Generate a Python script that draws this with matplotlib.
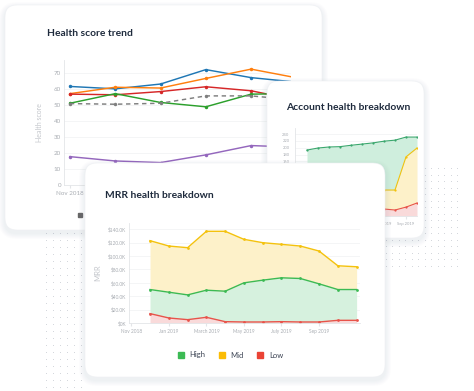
import numpy as np
import matplotlib
matplotlib.use("Agg")
import matplotlib.pyplot as plt
from matplotlib.patches import FancyBboxPatch
from matplotlib.lines import Line2D

W, H = 474, 391
plt.rcParams['font.family'] = ['Lato', 'DejaVu Sans']

# ---- Health score trend (back card) ----
health_months = ['Nov 2018', 'Dec 2018', 'Jan 2019', 'Feb 2019', 'Mar 2019', 'Apr 2019']
health_blue = [61.5, 60, 63, 72, 67, 64.2]
health_orange = [57, 61, 60.5, 66.5, 72.3, 66.9]
health_red = [56.7, 56.3, 58.3, 61.3, 58.8, 53]
health_green = [51, 57, 51.5, 48.8, 56.7, 57]
health_avg = [50.8, 50.4, 51, 55.6, 55.6, 53]
health_purple = [17.7, 15, 14, 18.8, 24.6, 23.6]
health_yticks = [0, 10, 20, 30, 40, 50, 60, 70]

# ---- Account health breakdown (middle card), accounts per segment ----
acct_months = ['Dec 2018', 'Jan 2019', 'Feb 2019', 'Mar 2019', 'Apr 2019', 'May 2019',
               'Jun 2019', 'Jul 2019', 'Aug 2019', 'Sep 2019', 'Oct 2019']
acct_low = [25, 24, 24, 23, 22, 22, 21, 20.5, 17.5, 26, 38]
acct_mid = [55, 56, 55, 56, 57, 56, 56, 55.5, 58.5, 147, 161]
acct_high = [113, 119, 123, 124, 128, 132.5, 137, 143, 146, 58, 32]
acct_yticks = [0, 20, 40, 60, 80, 100, 120, 140, 160, 180, 200, 220, 240]

# ---- MRR health breakdown (front card), $K ----
mrr_months = ['Dec 2018', 'Jan 2019', 'Feb 2019', 'Mar 2019', 'Apr 2019', 'May 2019',
              'Jun 2019', 'Jul 2019', 'Aug 2019', 'Sep 2019', 'Oct 2019', 'Nov 2019']
mrr_low = [14, 7.5, 5, 8.5, 2, 1.5, 1.5, 2, 1.5, 1.5, 4, 4]
mrr_high = [36, 38.5, 37, 40.5, 45.5, 58.5, 62.5, 65.5, 65, 57, 46, 46]
mrr_mid = [73, 69, 70.5, 88, 89.5, 65, 56, 50, 48.5, 49, 35.5, 34]
mrr_xtick_pos = [-1, 1, 3, 5, 7, 9]
mrr_xtick_labels = ['Nov 2018', 'Jan 2019', 'March 2019', 'May 2019', 'July 2019', 'Sep 2019']
mrr_yticks = [0, 20, 40, 60, 80, 100, 120, 140]

GREEN, YELLOW, RED = '#3cba54', '#f4c20d', '#e8534a'
GREEN_F, YELLOW_F, RED_F = '#d6f1de', '#fdf1c9', '#f9dada'
TITLE_C = '#1f2b3d'
TICK_C = '#a9adb3'


def rect(x0, y0, x1, y1):
    return [x0 / W, 1 - y1 / H, (x1 - x0) / W, (y1 - y0) / H]


def card(fig, x0, y0, x1, y1, z, title, tx, ty):
    pad = 14
    cax = fig.add_axes(rect(x0 - pad, y0 - pad, x1 + pad, y1 + pad))
    cax.set_xlim(x0 - pad, x1 + pad)
    cax.set_ylim(y1 + pad, y0 - pad)
    cax.axis('off')
    cax.set_zorder(z)
    for k in range(6, 0, -1):
        sh = FancyBboxPatch((x0 - k, y0 - k + 3), x1 - x0 + 2 * k, y1 - y0 + 2 * k,
                            boxstyle="round,pad=0,rounding_size=%d" % (12 + k),
                            fc='#8a93a6', ec='none', alpha=0.018)
        cax.add_patch(sh)
    cax.add_patch(FancyBboxPatch((x0, y0), x1 - x0, y1 - y0,
                                 boxstyle="round,pad=0,rounding_size=12",
                                 fc='white', ec='#eef0f3', lw=0.4))
    cax.text(tx, ty, title, fontsize=7.4, fontweight='bold', color=TITLE_C,
             ha='left', va='center')
    return cax


def style_axes(ax, z, tick_size):
    ax.set_zorder(z)
    ax.set_facecolor('none')
    for s in ['top', 'right']:
        ax.spines[s].set_visible(False)
    for s in ['left', 'bottom']:
        ax.spines[s].set_color('#e3e5e8')
        ax.spines[s].set_linewidth(0.6)
    ax.tick_params(colors=TICK_C, labelsize=tick_size, length=0, pad=2)
    ax.tick_params(axis='x', length=2, color='#e3e5e8')
    ax.grid(axis='y', color='#f0f1f3', lw=0.5)
    ax.set_axisbelow(True)


fig = plt.figure(figsize=(W / 100, H / 100), dpi=100)
fig.patch.set_facecolor('white')

# background dot grids
bg = fig.add_axes([0, 0, 1, 1])
bg.set_xlim(0, W)
bg.set_ylim(H, 0)
bg.axis('off')
bg.set_zorder(0)
gx, gy = np.meshgrid(np.arange(46, 86, 7), np.arange(233, 391, 7))
bg.scatter(gx.ravel(), gy.ravel(), s=0.5, color='#d2d5da', lw=0)
gx, gy = np.meshgrid(np.arange(386, 464, 6.5), np.arange(168, 267, 6.5))
bg.scatter(gx.ravel(), gy.ravel(), s=0.5, color='#d2d5da', lw=0)

# ---------------- card 1 ----------------
c1 = card(fig, 5, 5, 322, 230, 1, 'Health score trend', 47, 34)
c1.text(40, 122, 'Health score', rotation=90, fontsize=5, color='#c3c6cb',
        ha='center', va='center')
ax1 = fig.add_axes(rect(64, 60, 291, 185))
style_axes(ax1, 2, 4.5)
x1 = np.arange(len(health_months))
series1 = [(health_blue, '#1f77b4', '-'), (health_orange, '#ff7f0e', '-'),
           (health_red, '#d62728', '-'), (health_green, '#2ca02c', '-'),
           (health_avg, '#7f7f7f', (0, (3, 2.5))), (health_purple, '#9467bd', '-')]
for vals, col, ls in series1:
    ax1.plot(x1, vals, color=col, ls=ls, lw=1.05, marker='o', ms=2.5, mew=0)
ax1.set_xlim(-0.13, 4.88)
ax1.set_ylim(0, 78)
ax1.set_yticks(health_yticks)
# only the first month label peeks out from behind the front card
ax1.set_xticks([x1[0]])
ax1.set_xticklabels(health_months[:1])
ax1.legend([Line2D([], [], ls='none', marker='s', ms=3.5, color='#666666')],
           [''], frameon=False, fontsize=4.5, loc='center left',
           bbox_to_anchor=(71 / W, 1 - 216 / H), bbox_transform=fig.transFigure,
           borderpad=0, handletextpad=0.3)

# ---------------- card 2 ----------------
c2 = card(fig, 267, 81, 424, 238, 3, 'Account health breakdown', 286, 108)
ax2 = fig.add_axes(rect(295, 128, 417, 216))
style_axes(ax2, 4, 3)
x2 = np.arange(len(acct_months))
a_low = np.array(acct_low)
a_mid = a_low + np.array(acct_mid)
a_top = a_mid + np.array(acct_high)
ax2.fill_between(x2, 0, a_low, color=RED_F, lw=0)
ax2.fill_between(x2, a_low, a_mid, color=YELLOW_F, lw=0)
ax2.fill_between(x2, a_mid, a_top, color='#cfeedd', lw=0)
ax2.plot(x2, a_low, color=RED, lw=0.8, marker='o', ms=1.6, mew=0)
ax2.plot(x2, a_mid, color=YELLOW, lw=0.8, marker='o', ms=1.6, mew=0)
ax2.plot(x2, a_top, color='#3aa76d', lw=0.8, marker='o', ms=1.6, mew=0)
ax2.set_xlim(-1.09, 10)
ax2.set_ylim(0, 257.6)
ax2.set_yticks(acct_yticks)
ax2.set_xticks(x2[1::2])
ax2.set_xticklabels(acct_months[1::2])
ax2.tick_params(axis='y', pad=4)

# ---------------- card 3 ----------------
c3 = card(fig, 85, 163, 385, 377, 5, 'MRR health breakdown', 105, 195)
c3.text(98, 273, 'MRR', rotation=90, fontsize=5.5, color='#c3c6cb',
        ha='center', va='center')
ax3 = fig.add_axes(rect(129, 223, 360, 323))
style_axes(ax3, 6, 3.4)
x3 = np.arange(len(mrr_months))
m_low = np.array(mrr_low)
m_high = m_low + np.array(mrr_high)
m_top = m_high + np.array(mrr_mid)
ax3.fill_between(x3, 0, m_low, color=RED_F, lw=0)
ax3.fill_between(x3, m_low, m_high, color=GREEN_F, lw=0)
ax3.fill_between(x3, m_high, m_top, color=YELLOW_F, lw=0)
ax3.plot(x3, m_low, color=RED, lw=1.0, marker='o', ms=2, mew=0)
ax3.plot(x3, m_high, color=GREEN, lw=1.0, marker='o', ms=2, mew=0)
ax3.plot(x3, m_top, color=YELLOW, lw=1.0, marker='o', ms=2, mew=0)
ax3.set_xlim(-1.12, 11.18)
ax3.set_ylim(0, 149.4)
ax3.set_yticks(mrr_yticks)
ax3.set_yticklabels(['$0K'] + ['$%.1fK' % v for v in mrr_yticks[1:]])
ax3.set_xticks(mrr_xtick_pos)
ax3.set_xticklabels(mrr_xtick_labels)
handles3 = [Line2D([], [], ls='none', marker='s', ms=5, color=c)
            for c in [GREEN, '#fbbc05', '#ea4335']]
ax3.legend(handles3, ['High', 'Mid', 'Low'], ncol=3, frameon=False, fontsize=5.5,
           labelcolor='#3a4252', loc='center', bbox_to_anchor=(228 / W, 1 - 355 / H),
           bbox_transform=fig.transFigure, handletextpad=0.1, columnspacing=1.2)

fig.savefig('out.png', dpi=100)
